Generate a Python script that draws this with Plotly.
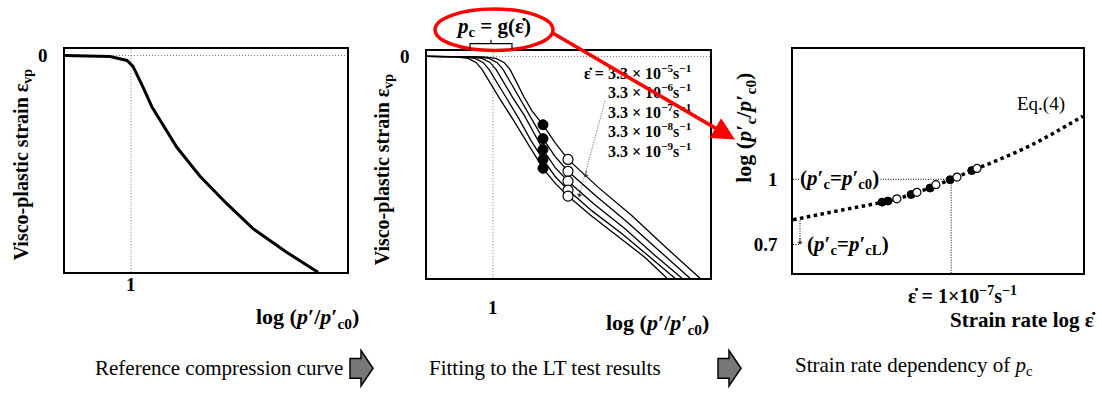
import plotly.graph_objects as go

W, H = 1102, 396
FONT = "Liberation Serif"

# ---------------- data ----------------
# Panel 1: reference compression curve  (x = log(p'/p'c0), y = visco-plastic strain)
ref_x = [0.67, 0.895, 0.98, 1.01, 1.06, 1.105, 1.23, 1.345, 1.48, 1.61, 1.78, 1.935]
ref_y = [0.0, -0.01, -0.05, -0.11, -0.32, -0.52, -0.93, -1.22, -1.50, -1.75, -1.99, -2.19]

# Panel 2: curves fitted to LT tests (one per strain rate)
rate_labels = ["3.3 × 10<sup>−5</sup>s<sup>−1</sup>", "3.3 × 10<sup>−6</sup>s<sup>−1</sup>",
               "3.3 × 10<sup>−7</sup>s<sup>−1</sup>", "3.3 × 10<sup>−8</sup>s<sup>−1</sup>",
               "3.3 × 10<sup>−9</sup>s<sup>−1</sup>"]
curve_x = [
    [0.67, 0.95, 1.015, 1.055, 1.085, 1.12, 1.155, 1.195, 1.225, 1.25, 1.31, 1.375, 1.525, 1.695, 1.865, 2.035],
    [0.67, 0.915, 0.98, 1.02, 1.05, 1.09, 1.13, 1.18, 1.22, 1.25, 1.31, 1.375, 1.515, 1.675, 1.835, 1.985],
    [0.67, 0.88, 0.945, 0.985, 1.015, 1.055, 1.10, 1.155, 1.205, 1.25, 1.31, 1.375, 1.505, 1.66, 1.81, 1.945],
    [0.67, 0.845, 0.91, 0.95, 0.98, 1.02, 1.07, 1.13, 1.19, 1.25, 1.31, 1.375, 1.495, 1.645, 1.785, 1.91],
    [0.67, 0.81, 0.875, 0.915, 0.945, 0.985, 1.035, 1.095, 1.16, 1.25, 1.31, 1.375, 1.485, 1.635, 1.76, 1.87],
]
curve_y = [
    [0, -0.005, -0.02, -0.06, -0.13, -0.27, -0.41, -0.55, -0.63, -0.69, -0.87, -1.04, -1.32, -1.61, -1.93, -2.24],
    [0, -0.005, -0.02, -0.06, -0.13, -0.27, -0.41, -0.58, -0.71, -0.83, -1.01, -1.16, -1.41, -1.68, -1.97, -2.24],
    [0, -0.005, -0.02, -0.06, -0.13, -0.27, -0.42, -0.59, -0.77, -0.94, -1.12, -1.26, -1.49, -1.74, -2.01, -2.24],
    [0, -0.005, -0.02, -0.06, -0.13, -0.27, -0.43, -0.63, -0.85, -1.04, -1.21, -1.35, -1.56, -1.79, -2.03, -2.24],
    [0, -0.005, -0.02, -0.06, -0.13, -0.27, -0.43, -0.62, -0.84, -1.13, -1.28, -1.41, -1.60, -1.83, -2.03, -2.24],
]
lt_filled_x = [1.25, 1.25, 1.25, 1.25, 1.25]
lt_filled_y = [-0.69, -0.83, -0.94, -1.04, -1.13]
lt_open_x = [1.375, 1.375, 1.375, 1.375, 1.375]
lt_open_y = [-1.04, -1.16, -1.26, -1.35, -1.41]

# Panel 3: strain-rate dependency (x = log strain rate, y = log(p'c/p'c0))
eq4_x = [-10, -9.5, -9, -8.5, -8, -7.5, -7, -6.5, -6, -5.5, -5, -4.5]
eq4_y = [0.814, 0.838, 0.862, 0.885, 0.912, 0.952, 1.0, 1.05, 1.10, 1.155, 1.22, 1.29]
pc_filled_x = [-8.31, -8.20, -7.76, -7.40, -7.02, -6.61]
pc_filled_y = [0.895, 0.900, 0.930, 0.960, 0.998, 1.040]
pc_open_x = [-8.03, -7.65, -7.29, -6.89, -6.51]
pc_open_y = [0.910, 0.940, 0.975, 1.010, 1.050]

# ---------------- helpers ----------------
def px(x):
    return x / W

def py(y):
    return 1 - y / H

fig = go.Figure()

# Panel 1
fig.add_trace(go.Scatter(x=[1, 1], y=[-2.19, 0.07], mode="lines",
                         line=dict(color="#555", width=0.8, dash="1px,2px"), xaxis="x", yaxis="y"))
fig.add_trace(go.Scatter(x=[0.67, 2.08], y=[0, 0], mode="lines",
                         line=dict(color="#555", width=0.8, dash="1px,2px"), xaxis="x", yaxis="y"))
fig.add_trace(go.Scatter(x=ref_x, y=ref_y, mode="lines", line=dict(color="black", width=3),
                         xaxis="x", yaxis="y"))

# Panel 2
fig.add_trace(go.Scatter(x=[1, 1], y=[-2.24, 0.06], mode="lines",
                         line=dict(color="#555", width=0.8, dash="1px,2px"), xaxis="x2", yaxis="y2"))
fig.add_trace(go.Scatter(x=[0.67, 2.085], y=[0, 0], mode="lines",
                         line=dict(color="#555", width=0.8, dash="1px,2px"), xaxis="x2", yaxis="y2"))
for cx, cy in zip(curve_x, curve_y):
    fig.add_trace(go.Scatter(x=cx, y=cy, mode="lines", line=dict(color="black", width=1.3),
                             xaxis="x2", yaxis="y2"))
fig.add_trace(go.Scatter(x=lt_filled_x, y=lt_filled_y, mode="markers",
                         marker=dict(color="black", size=10, line=dict(color="black", width=1)),
                         xaxis="x2", yaxis="y2"))
fig.add_trace(go.Scatter(x=lt_open_x, y=lt_open_y, mode="markers",
                         marker=dict(color="white", size=10, line=dict(color="black", width=1.2)),
                         xaxis="x2", yaxis="y2"))
# dotted pointer line for strain-rate labels
fig.add_trace(go.Scatter(x=[1.56, 1.425], y=[-0.45, -1.45], mode="lines",
                         line=dict(color="#333", width=0.8, dash="1px,1.5px"), xaxis="x2", yaxis="y2"))

# Panel 3
fig.add_trace(go.Scatter(x=[-10, -7], y=[1, 1], mode="lines",
                         line=dict(color="black", width=1, dash="1px,1.5px"), xaxis="x3", yaxis="y3"))
fig.add_trace(go.Scatter(x=[-7, -7], y=[0.568, 1], mode="lines",
                         line=dict(color="black", width=1, dash="1px,1.5px"), xaxis="x3", yaxis="y3"))
fig.add_trace(go.Scatter(x=[-10, -9.867, -9.867], y=[0.7, 0.7, 0.814], mode="lines",
                         line=dict(color="black", width=1, dash="1px,1.5px"), xaxis="x3", yaxis="y3"))
fig.add_trace(go.Scatter(x=eq4_x, y=eq4_y, mode="lines", line=dict(color="black", width=3.5, dash="dot", shape="spline"),
                         xaxis="x3", yaxis="y3"))
fig.add_trace(go.Scatter(x=pc_filled_x, y=pc_filled_y, mode="markers",
                         marker=dict(color="black", size=8, line=dict(color="black", width=1)),
                         xaxis="x3", yaxis="y3"))
fig.add_trace(go.Scatter(x=pc_open_x, y=pc_open_y, mode="markers",
                         marker=dict(color="white", size=8, line=dict(color="black", width=1.2)),
                         xaxis="x3", yaxis="y3"))

axis_common = dict(showgrid=False, zeroline=False, showline=True, mirror=True, linecolor="black",
                   linewidth=1.5, ticks="", tickfont=dict(family=FONT, size=19, color="black"))

fig.update_layout(
    width=W, height=H, margin=dict(l=0, r=0, t=0, b=0),
    paper_bgcolor="white", plot_bgcolor="white", showlegend=False,
    font=dict(family=FONT, color="black"),
    xaxis=dict(domain=[px(65), px(347)], range=[0.67, 2.08], anchor="y",
               showticklabels=False, **axis_common),
    yaxis=dict(domain=[py(271), py(45)], range=[-2.19, 0.07], anchor="x",
               tickvals=[0], ticktext=["<b>0</b>"], ticklabelstandoff=12, **axis_common),
    xaxis2=dict(domain=[px(427), px(710)], range=[0.67, 2.085], anchor="y2",
                showticklabels=False, **axis_common),
    yaxis2=dict(domain=[py(277), py(47)], range=[-2.24, 0.06], anchor="x2",
                tickvals=[0], ticktext=["<b>0</b>"], ticklabelstandoff=12, **axis_common),
    xaxis3=dict(domain=[px(793), px(1083)], range=[-10, -4.5], anchor="y3",
                showticklabels=False, **axis_common),
    yaxis3=dict(domain=[py(272), py(45)], range=[0.568, 1.601], anchor="x3",
                tickvals=[0.7, 1], ticktext=["<b>0.7</b>", "<b>1</b>"], ticklabelstandoff=10, **axis_common),
)

ann = []
def text(x, y, s, size=18, bold=True, xanchor="center", yanchor="middle", angle=0, bg=None, ref="paper"):
    d = dict(x=x, y=y, text=(f"<b>{s}</b>" if bold else s), showarrow=False,
             font=dict(family=FONT, size=size, color="black"), xanchor=xanchor, yanchor=yanchor,
             textangle=angle)
    if ref == "paper":
        d.update(xref="paper", yref="paper", x=px(x), y=py(y))
    else:
        d.update(xref=ref[0], yref=ref[1])
    if bg:
        d["bgcolor"] = bg
        d["borderpad"] = 0
    ann.append(d)

# x tick labels "1" (at x = 1 on the log(p'/p'c0) axes)
ann.append(dict(xref="x", yref="y domain", x=1, y=0, yshift=-12, text="<b>1</b>", showarrow=False,
                font=dict(family=FONT, size=19, color="black"), yanchor="middle"))
ann.append(dict(xref="x2", yref="y2 domain", x=1, y=0, yshift=-29, text="<b>1</b>", showarrow=False,
                font=dict(family=FONT, size=19, color="black"), yanchor="middle"))

# axis titles
text(22, 162, "Visco-plastic strain ε<sub>vp</sub>", size=20, angle=-90)
text(383, 167, "Visco-plastic strain ε<sub>vp</sub>", size=20, angle=-90)
text(745, 125, "log (<i>p</i>′<sub>c</sub>/<i>p</i>′<sub>c0</sub>)", size=22, angle=-90)
text(361, 317, "log (<i>p</i>′/<i>p</i>′<sub>c0</sub>)", size=22, xanchor="right")
text(711, 323, "log (<i>p</i>′/<i>p</i>′<sub>c0</sub>)", size=22, xanchor="right")
text(962, 294, "ε̇ = 1×10<sup>−7</sup>s<sup>−1</sup>", size=20)
text(1098, 319, "Strain rate log ε̇", size=21, xanchor="right")

# strain-rate labels in panel 2
label_y = [69, 88, 108, 127, 147]
for i, (lab, yy) in enumerate(zip(rate_labels, label_y)):
    s = ("ε̇ = " + lab) if i == 0 else lab
    text(694, yy, s, size=16, xanchor="right")

# panel 3 labels
text(-9.12, 1.0, "(<i>p</i>′<sub>c</sub>=<i>p</i>′<sub>c0</sub>)", size=21, ref=("x3", "y3"), bg="white")
text(-8.95, 0.7, "(<i>p</i>′<sub>c</sub>=<i>p</i>′<sub>cL</sub>)", size=21, ref=("x3", "y3"))
text(1041, 101, "Eq.(4)", size=19, bold=False)

# red ellipse label
text(493, 23, "<i>p</i><sub>c</sub> = g(ε̇)", size=21)

# bottom captions
text(219, 368, "Reference compression curve", size=21, bold=False)
text(545, 368, "Fitting to the LT test results", size=21, bold=False)
text(793, 366, "Strain rate dependency of <i>p</i><sub>c</sub>", size=21, bold=False, xanchor="left")

# arrows
ann.append(dict(xref="paper", yref="paper", x=px(735), y=py(137), ax=552 - 735, ay=30 - 137,
                axref="pixel", ayref="pixel", showarrow=True, arrowhead=2, arrowsize=1.3,
                arrowwidth=3.5, arrowcolor="red", text=""))
for (tx, ty) in [(1.46, -1.22), (1.43, -1.42)]:
    ann.append(dict(xref="x2", yref="y2", x=tx, y=ty, ax=2, ay=-8, showarrow=True, arrowhead=1,
                    arrowsize=1.2, arrowwidth=0.8, arrowcolor="#333", text=""))
ann.append(dict(xref="x3", yref="y3", x=-9.867, y=0.7, ax=0, ay=-8, showarrow=True, arrowhead=1,
                arrowsize=1.2, arrowwidth=0.8, arrowcolor="#333", text=""))
fig.update_layout(annotations=ann)

# shapes: ellipse, brace, block arrows
def path(points):
    parts = []
    for i, (x, y) in enumerate(points):
        parts.append(("M" if i == 0 else "L") + f"{px(x):.5f},{py(y):.5f}")
    return " ".join(parts) + " Z"

shapes = [
    dict(type="circle", xref="paper", yref="paper", x0=px(435), x1=px(553), y0=py(47), y1=py(5),
         line=dict(color="red", width=3.5)),
    dict(type="path", xref="paper", yref="paper",
         path=f"M{px(470)},{py(46)} L{px(470)},{py(40)} L{px(512)},{py(40)} L{px(512)},{py(46)} "
              f"M{px(491)},{py(40)} L{px(491)},{py(36)}",
         line=dict(color="black", width=1.2)),
]
for x0 in [350, 718]:
    pts = [(x0, 358), (x0 + 11, 358), (x0 + 11, 350), (x0 + 23, 368), (x0 + 11, 386), (x0 + 11, 378), (x0, 378)]
    shapes.append(dict(type="path", xref="paper", yref="paper", path=path(pts),
                       fillcolor="#777777", line=dict(color="black", width=1.5)))
fig.update_layout(shapes=shapes)

fig.write_html("out.html")
